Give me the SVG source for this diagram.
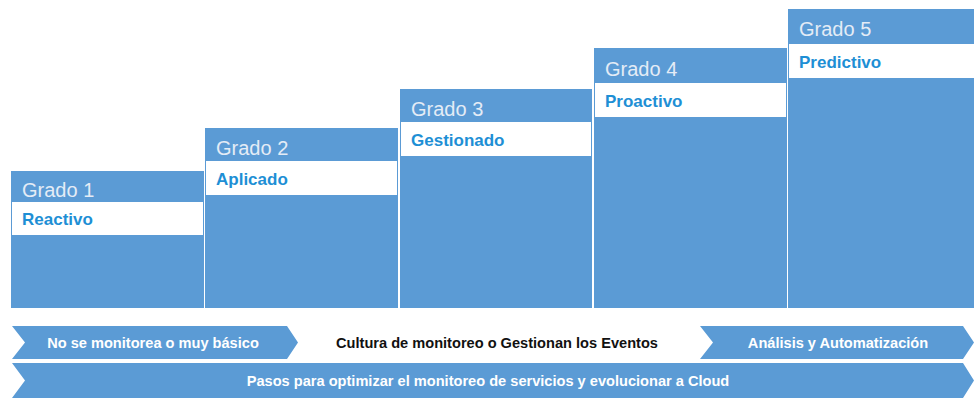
<svg xmlns="http://www.w3.org/2000/svg" width="974" height="399" viewBox="0 0 974 399">
<style>
.box{fill:#5b9bd5;}
.band{fill:#ffffff;}
.grado{font-family:"Liberation Sans",Arial,sans-serif;font-size:20px;fill:#e4ecf6;}
.lbl{font-family:"Liberation Sans",Arial,sans-serif;font-size:17px;font-weight:bold;fill:#1e8fd5;}
.chev{fill:#5b9bd5;}
.ct{font-family:"Liberation Sans",Arial,sans-serif;font-size:14.6px;font-weight:bold;fill:#ffffff;text-anchor:middle;}
.ctb{font-family:"Liberation Sans",Arial,sans-serif;font-size:14.6px;font-weight:bold;fill:#111111;text-anchor:middle;}
</style>
<rect width="974" height="399" fill="#ffffff"/>
<g id="grado1">
<rect class="box" x="11" y="171" width="193" height="137"/>
<rect class="band" x="12" y="202" width="191" height="33"/>
<text class="grado" x="22" y="197">Grado 1</text>
<text class="lbl" x="22" y="225">Reactivo</text>
</g>
<g id="grado2">
<rect class="box" x="205" y="128" width="193" height="180"/>
<rect class="band" x="206" y="161" width="191" height="34"/>
<text class="grado" x="216" y="155">Grado 2</text>
<text class="lbl" x="216" y="185">Aplicado</text>
</g>
<g id="grado3">
<rect class="box" x="400" y="89" width="192" height="219"/>
<rect class="band" x="401" y="122" width="190" height="34"/>
<text class="grado" x="411" y="116">Grado 3</text>
<text class="lbl" x="411" y="146">Gestionado</text>
</g>
<g id="grado4">
<rect class="box" x="594" y="48" width="193" height="260"/>
<rect class="band" x="595" y="83" width="191" height="34"/>
<text class="grado" x="605" y="76">Grado 4</text>
<text class="lbl" x="605" y="107">Proactivo</text>
</g>
<g id="grado5">
<rect class="box" x="788" y="9" width="186" height="299"/>
<rect class="band" x="789" y="44" width="185" height="34"/>
<text class="grado" x="799" y="36">Grado 5</text>
<text class="lbl" x="799" y="68">Predictivo</text>
</g>
<g id="connectors">
<g id="chev1">
<polygon class="chev" points="12,326 287,326 298,342.5 287,359 12,359 25,342.5"/>
<text class="ct" x="153" y="348">No se monitorea o muy básico</text>
</g>
<g id="chev2">
<text class="ctb" x="497" y="348">Cultura de monitoreo o Gestionan los Eventos</text>
</g>
<g id="chev3">
<polygon class="chev" points="700,326 963,326 974,342.5 963,359 700,359 713,342.5"/>
<text class="ct" x="838" y="348">Análisis y Automatización</text>
</g>
<g id="bar">
<polygon class="chev" points="12,363 963,363 974,380.5 963,398 12,398 25,380.5"/>
<text class="ct" x="488" y="386">Pasos para optimizar el monitoreo de servicios y evolucionar a Cloud</text>
</g>
</g>
</svg>
